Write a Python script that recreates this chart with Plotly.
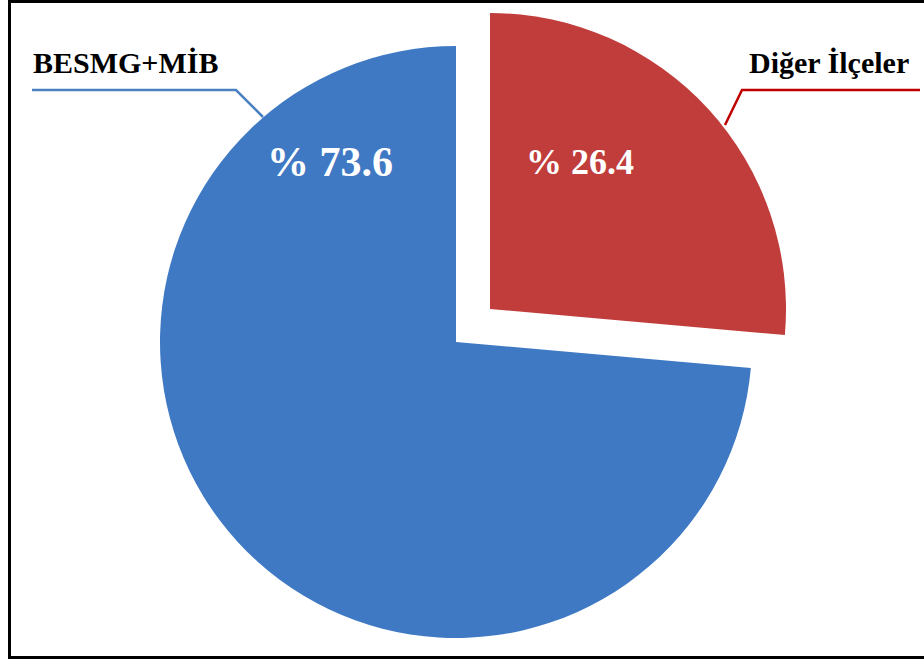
import plotly.graph_objects as go

# Share of the two district groups (percent)
categories = ["Diğer İlçeler", "BESMG+MİB"]
shares = [26.4, 73.6]
slice_colors = ["#c03d3b", "#3f79c4"]

W, H = 924, 659


def px_domain(cx, cy, r):
    """Domain (paper fractions) for a pie centred at pixel (cx, cy) with radius r."""
    return dict(
        x=[(cx - r) / W, (cx + r) / W],
        y=[1 - (cy + r) / H, 1 - (cy - r) / H],
    )


R = 296
main_center = (456, 342)
exploded_center = (490, 309)

fig = go.Figure()

# Main body: the large slice, with the exploded slice left empty
fig.add_trace(go.Pie(
    labels=categories,
    values=shares,
    sort=False,
    direction="clockwise",
    rotation=0,
    marker=dict(colors=["rgba(0,0,0,0)", slice_colors[1]], line=dict(width=0)),
    textinfo="none",
    hoverinfo="label+percent",
    showlegend=False,
    domain=px_domain(*main_center, R),
))

# Exploded slice drawn on its own, shifted outward along its bisector
fig.add_trace(go.Pie(
    labels=categories,
    values=shares,
    sort=False,
    direction="clockwise",
    rotation=0,
    marker=dict(colors=[slice_colors[0], "rgba(0,0,0,0)"], line=dict(width=0)),
    textinfo="none",
    hoverinfo="label+percent",
    showlegend=False,
    domain=px_domain(*exploded_center, R),
))

serif = "Liberation Serif, Times New Roman, serif"

annotations = [
    # category names
    dict(x=126 / W, y=1 - 62 / H, text=f"<b>{categories[1]}</b>",
         font=dict(family=serif, size=30, color="black")),
    dict(x=829 / W, y=1 - 62 / H, text=f"<b>{categories[0]}</b>",
         font=dict(family=serif, size=30, color="black")),
    # percentage labels inside the slices
    dict(x=330 / W, y=1 - 162 / H, text=f"<b>% {shares[1]}</b>",
         font=dict(family=serif, size=42, color="white")),
    dict(x=580 / W, y=1 - 162 / H, text=f"<b>% {shares[0]}</b>",
         font=dict(family=serif, size=36, color="white")),
]
for a in annotations:
    a.update(xref="paper", yref="paper", showarrow=False,
             xanchor="center", yanchor="middle")

shapes = [
    # leader lines
    dict(type="path", path=f"M {32 / W} {1 - 90 / H} L {236 / W} {1 - 90 / H} L {263 / W} {1 - 117 / H}",
         line=dict(color="#4a7fc0", width=2.5)),
    dict(type="path", path=f"M {920 / W} {1 - 90 / H} L {742 / W} {1 - 90 / H} L {725 / W} {1 - 125 / H}",
         line=dict(color="#c00000", width=2.5)),
    # outer frame
    dict(type="rect", x0=9.5 / W, x1=930 / W, y0=1 - 657.5 / H, y1=1 - 1.5 / H,
         line=dict(color="black", width=3)),
]
for s in shapes:
    s.update(xref="paper", yref="paper")

fig.update_layout(
    width=W,
    height=H,
    margin=dict(l=0, r=0, t=0, b=0),
    paper_bgcolor="white",
    plot_bgcolor="white",
    annotations=annotations,
    shapes=shapes,
)

fig.write_html("out.html")
